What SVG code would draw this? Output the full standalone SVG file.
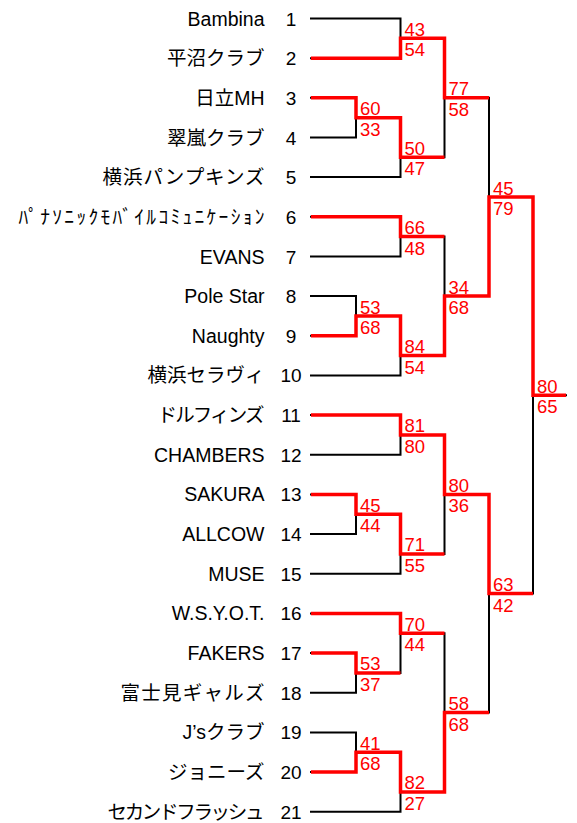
<svg xmlns="http://www.w3.org/2000/svg" width="577" height="823" viewBox="0 0 577 823">
<style>
.nm{font-family:"Liberation Sans","Noto Sans CJK JP",sans-serif;font-size:19.5px;fill:#000;text-anchor:end}
.no{font-family:"Liberation Sans","Noto Sans CJK JP",sans-serif;font-size:19px;fill:#000;text-anchor:middle}
.sc{font-family:"Liberation Sans",sans-serif;font-size:18.5px;fill:#ff0000}
.blk{fill:none;stroke:#000;stroke-width:2;stroke-linecap:square}
.red{fill:none;stroke:#ff0000;stroke-width:3.5;stroke-linejoin:miter;stroke-linecap:butt}
</style>
<rect width="577" height="823" fill="#fff"/>
<g id="connectors">
<path class="blk" d="M311,18.5H400.5 M311,58.2H400.5 M311,97.8H356 M311,137.5H356 M311,177.1H400.5 M311,216.8H400.5 M311,256.5H400.5 M311,296.1H356 M311,335.8H356 M311,375.4H400.5 M311,415.1H400.5 M311,454.8H400.5 M311,494.4H356 M311,534.1H356 M311,573.7H400.5 M311,613.4H400.5 M311,653.1H356 M311,692.7H356 M311,732.4H356 M311,772H356 M311,811.7H400.5
M400.5,18.5V58.2 M400.5,38.3H444.5
M356,97.8V137.5 M356,117.7H400.5
M400.5,117.7V177.1 M400.5,157.3H444.5
M444.5,38.3V157.3 M444.5,97.8H489
M400.5,216.8V256.5 M400.5,236.6H444.5
M356,296.1V335.8 M356,316H400.5
M400.5,316V375.4 M400.5,355.6H444.5
M444.5,236.6V355.6 M444.5,296.1H489
M489,97.8V296.1 M489,197H533
M400.5,415.1V454.8 M400.5,434.9H444.5
M356,494.4V534.1 M356,514.3H400.5
M400.5,514.3V573.7 M400.5,553.9H444.5
M444.5,434.9V553.9 M444.5,494.4H489
M356,653.1V692.7 M356,672.9H400.5
M400.5,613.4V672.9 M400.5,633.2H444.5
M356,732.4V772 M356,752.2H400.5
M400.5,752.2V811.7 M400.5,791.9H444.5
M444.5,633.2V791.9 M444.5,712.6H489
M489,494.4V712.6 M489,593.6H533
M533,197V593.6 M533,395.3H566"/>
<path class="red" d="M311,58.2H400.5V38.3H444.5V97.8H489"/>
<path class="red" d="M311,97.8H356V117.7H400.5V157.3H444.5"/>
<path class="red" d="M311,216.8H400.5V236.6H444.5"/>
<path class="red" d="M311,335.8H356V316H400.5V355.6H444.5V296.1H489V197H533V395.3H566"/>
<path class="red" d="M311,415.1H400.5V434.9H444.5V494.4H489V593.6H533"/>
<path class="red" d="M311,494.4H356V514.3H400.5V553.9H444.5"/>
<path class="red" d="M311,613.4H400.5V633.2H444.5"/>
<path class="red" d="M311,653.1H356V672.9H400.5"/>
<path class="red" d="M311,772H356V752.2H400.5V791.9H444.5V712.6H489"/>
</g>
<g id="team-1"><text class="nm" x="264.5" y="25.5">Bambina</text><text class="no" x="291" y="25.5">1</text></g>
<g id="team-2"><text class="nm" x="264.5" y="65.2">平沼クラブ</text><text class="no" x="291" y="65.2">2</text></g>
<g id="team-3"><text class="nm" x="264.5" y="104.8">日立MH</text><text class="no" x="291" y="104.8">3</text></g>
<g id="team-4"><text class="nm" x="264.5" y="144.5">翠嵐クラブ</text><text class="no" x="291" y="144.5">4</text></g>
<g id="team-5"><text class="nm" x="264.5" y="184.1" textLength="162" lengthAdjust="spacing">横浜パンプキンズ</text><text class="no" x="291" y="184.1">5</text></g>
<g id="team-6"><text class="nm" x="264.5" y="223.8" textLength="246" lengthAdjust="spacing">ﾊﾟﾅｿﾆｯｸﾓﾊﾞｲﾙｺﾐｭﾆｹｰｼｮﾝ</text><text class="no" x="291" y="223.8">6</text></g>
<g id="team-7"><text class="nm" x="264.5" y="263.5">EVANS</text><text class="no" x="291" y="263.5">7</text></g>
<g id="team-8"><text class="nm" x="264.5" y="303.1">Pole Star</text><text class="no" x="291" y="303.1">8</text></g>
<g id="team-9"><text class="nm" x="264.5" y="342.8">Naughty</text><text class="no" x="291" y="342.8">9</text></g>
<g id="team-10"><text class="nm" x="264.5" y="382.4">横浜セラヴィ</text><text class="no" x="291" y="382.4">10</text></g>
<g id="team-11"><text class="nm" x="264.5" y="422.1" textLength="107" lengthAdjust="spacing">ドルフィンズ</text><text class="no" x="291" y="422.1">11</text></g>
<g id="team-12"><text class="nm" x="264.5" y="461.8">CHAMBERS</text><text class="no" x="291" y="461.8">12</text></g>
<g id="team-13"><text class="nm" x="264.5" y="501.4">SAKURA</text><text class="no" x="291" y="501.4">13</text></g>
<g id="team-14"><text class="nm" x="264.5" y="541.1">ALLCOW</text><text class="no" x="291" y="541.1">14</text></g>
<g id="team-15"><text class="nm" x="264.5" y="580.7">MUSE</text><text class="no" x="291" y="580.7">15</text></g>
<g id="team-16"><text class="nm" x="264.5" y="620.4">W.S.Y.O.T.</text><text class="no" x="291" y="620.4">16</text></g>
<g id="team-17"><text class="nm" x="264.5" y="660.1">FAKERS</text><text class="no" x="291" y="660.1">17</text></g>
<g id="team-18"><text class="nm" x="264.5" y="699.7" textLength="144" lengthAdjust="spacing">富士見ギャルズ</text><text class="no" x="291" y="699.7">18</text></g>
<g id="team-19"><text class="nm" x="264.5" y="739.4">J’sクラブ</text><text class="no" x="291" y="739.4">19</text></g>
<g id="team-20"><text class="nm" x="264.5" y="779">ジョニーズ</text><text class="no" x="291" y="779">20</text></g>
<g id="team-21"><text class="nm" x="264.5" y="818.7" textLength="157" lengthAdjust="spacing">セカンドフラッシュ</text><text class="no" x="291" y="818.7">21</text></g>
<g id="match-A"><text class="sc" x="404.5" y="35.8">43</text><text class="sc" x="404.5" y="56.3">54</text></g>
<g id="match-B"><text class="sc" x="360" y="115.2">60</text><text class="sc" x="360" y="135.7">33</text></g>
<g id="match-C"><text class="sc" x="404.5" y="154.8">50</text><text class="sc" x="404.5" y="175.3">47</text></g>
<g id="match-D"><text class="sc" x="448.5" y="95.3">77</text><text class="sc" x="448.5" y="115.8">58</text></g>
<g id="match-E"><text class="sc" x="404.5" y="234.1">66</text><text class="sc" x="404.5" y="254.6">48</text></g>
<g id="match-F"><text class="sc" x="360" y="313.5">53</text><text class="sc" x="360" y="334">68</text></g>
<g id="match-G"><text class="sc" x="404.5" y="353.1">84</text><text class="sc" x="404.5" y="373.6">54</text></g>
<g id="match-H"><text class="sc" x="448.5" y="293.6">34</text><text class="sc" x="448.5" y="314.1">68</text></g>
<g id="match-I"><text class="sc" x="493" y="194.5">45</text><text class="sc" x="493" y="215">79</text></g>
<g id="match-J"><text class="sc" x="404.5" y="432.4">81</text><text class="sc" x="404.5" y="452.9">80</text></g>
<g id="match-K"><text class="sc" x="360" y="511.8">45</text><text class="sc" x="360" y="532.3">44</text></g>
<g id="match-L"><text class="sc" x="404.5" y="551.4">71</text><text class="sc" x="404.5" y="571.9">55</text></g>
<g id="match-M"><text class="sc" x="448.5" y="491.9">80</text><text class="sc" x="448.5" y="512.4">36</text></g>
<g id="match-N"><text class="sc" x="360" y="670.4">53</text><text class="sc" x="360" y="690.9">37</text></g>
<g id="match-O"><text class="sc" x="404.5" y="630.7">70</text><text class="sc" x="404.5" y="651.2">44</text></g>
<g id="match-P"><text class="sc" x="360" y="749.7">41</text><text class="sc" x="360" y="770.2">68</text></g>
<g id="match-Q"><text class="sc" x="404.5" y="789.4">82</text><text class="sc" x="404.5" y="809.9">27</text></g>
<g id="match-R"><text class="sc" x="448.5" y="710.1">58</text><text class="sc" x="448.5" y="730.6">68</text></g>
<g id="match-S"><text class="sc" x="493" y="591.1">63</text><text class="sc" x="493" y="611.6">42</text></g>
<g id="match-T"><text class="sc" x="537" y="392.8">80</text><text class="sc" x="537" y="413.3">65</text></g>
</svg>
